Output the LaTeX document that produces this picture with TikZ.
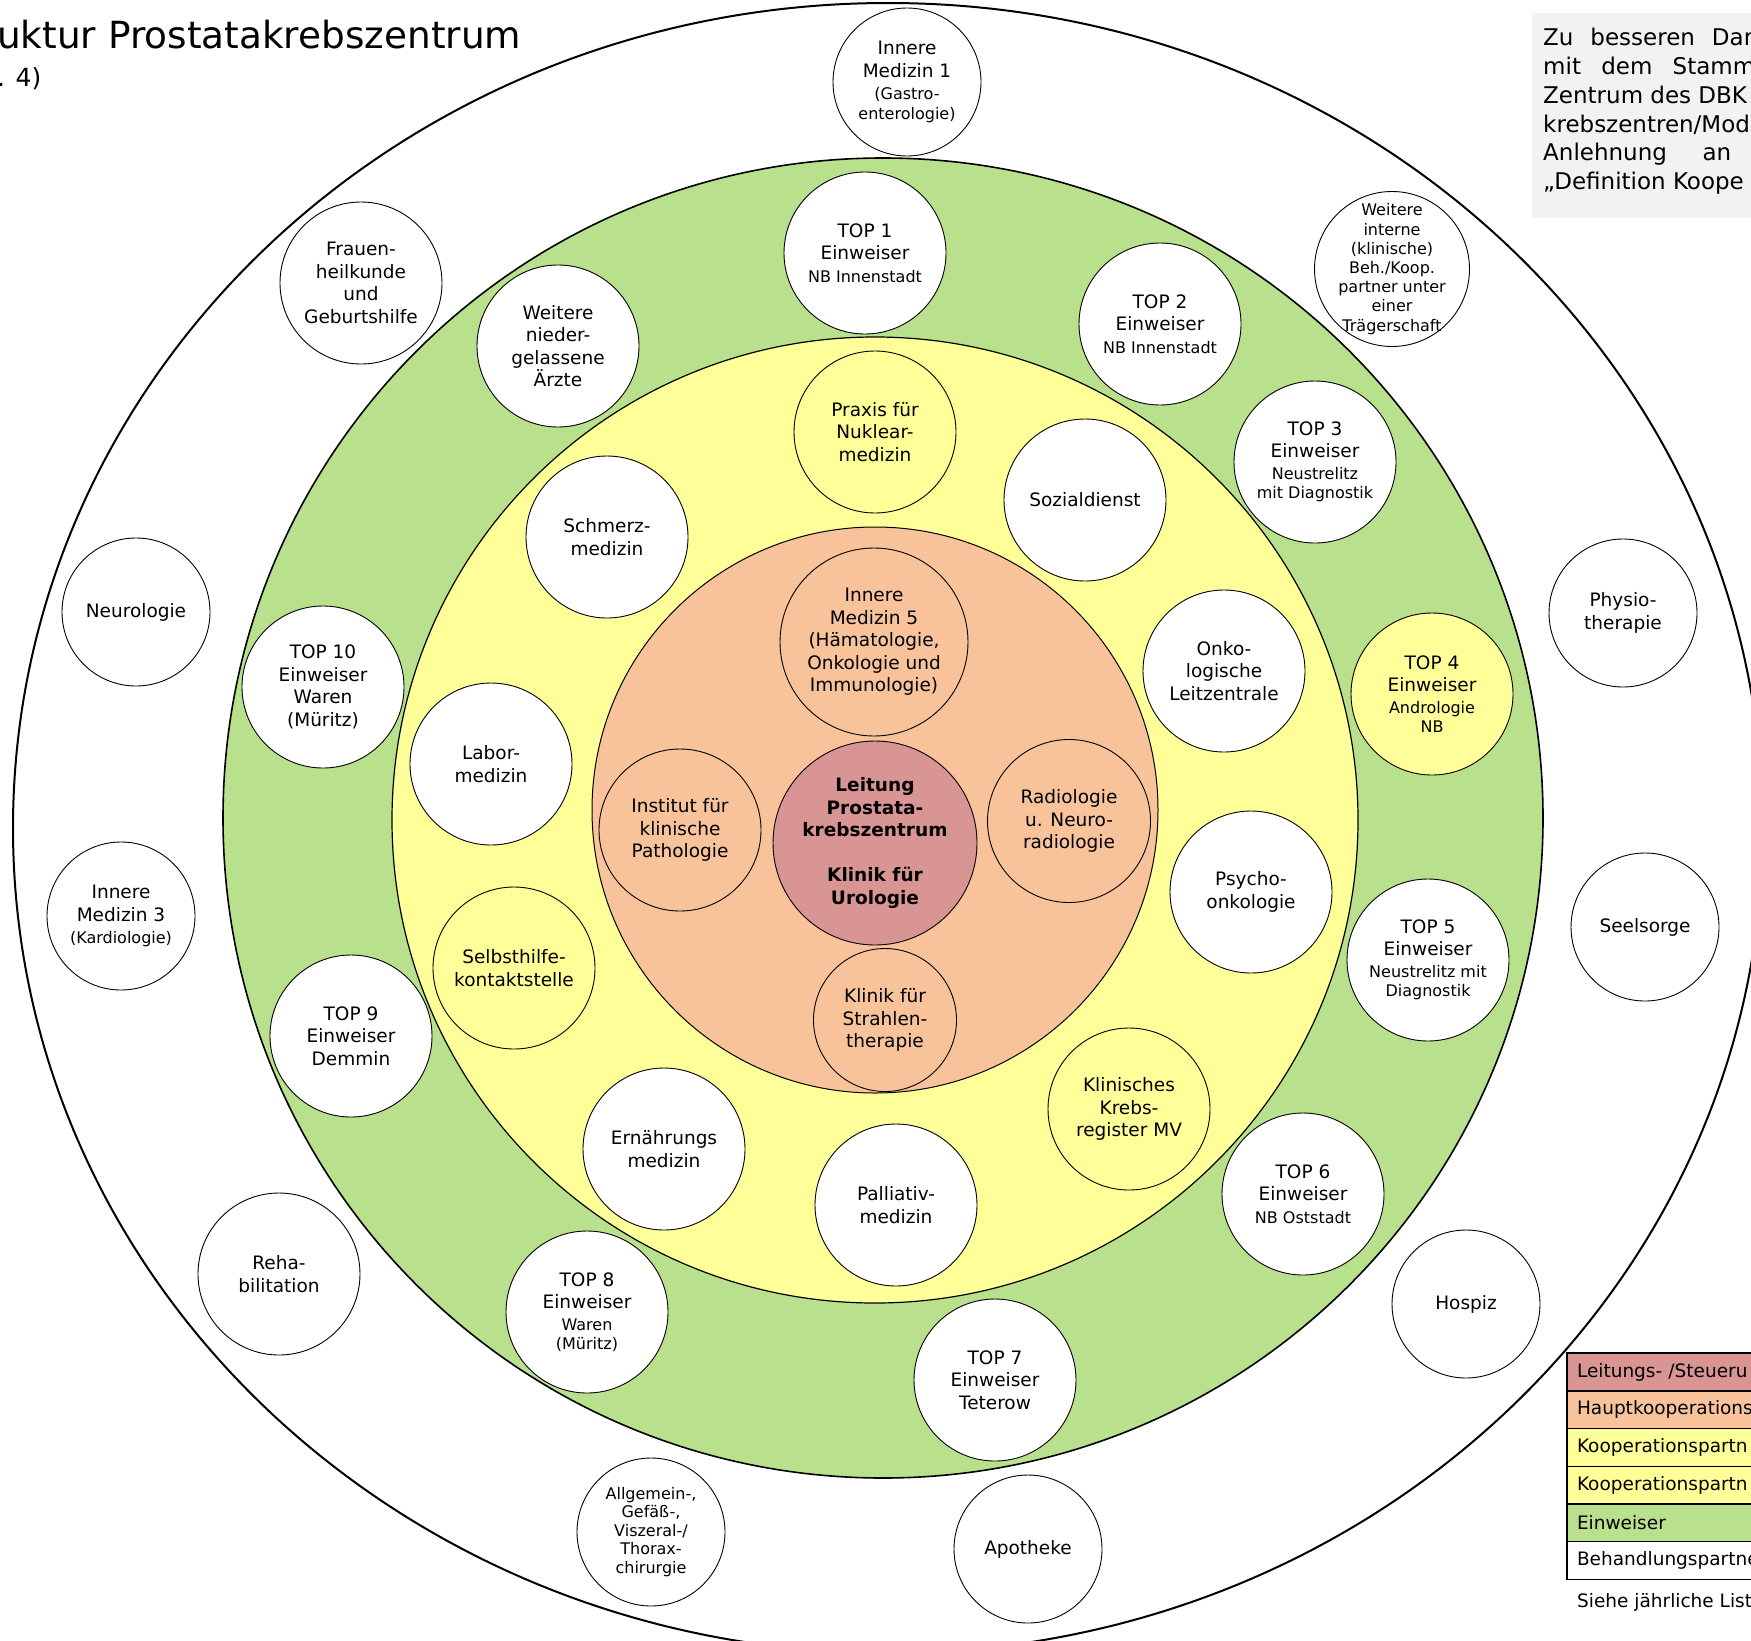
\documentclass[tikz,border=0pt]{standalone}
\usepackage{fontspec}
\setmainfont{DejaVu Sans}
\usetikzlibrary{positioning}
\definecolor{leitrot}{HTML}{D99594}
\definecolor{hauptor}{HTML}{F8C39B}
\definecolor{koopgelb}{HTML}{FFFF99}
\definecolor{einwgruen}{HTML}{B9E08D}
\definecolor{boxgrau}{HTML}{F2F2F2}
\newcommand{\normtxt}{\fontsize{18.5}{22.5}\selectfont}
\newcommand{\smtxt}{\fontsize{16}{19.5}\selectfont}
\newcommand{\tytxt}{\fontsize{16}{18.5}\selectfont}
\tikzset{
  bub/.style={circle, draw, line width=0.9pt, fill=white, inner sep=-6pt,
    align=center, font=\normtxt, minimum size=162pt},
  bubs/.style={bub, minimum size=148pt},
  legrow/.style={draw, line width=1.5pt, anchor=west, text width=230pt,
    align=left, inner xsep=10pt, inner ysep=0pt, outer sep=0pt,
    minimum height=37.7pt, font=\normtxt}
}

\begin{document}
\begin{tikzpicture}[x=1pt, y=-1pt]
\useasboundingbox (0,0) rectangle (1751,1641);
\fill[white] (0,0) rectangle (1751,1641);

% Ringe
\draw[line width=2pt] (888,828) ellipse [x radius=875, y radius=825];
\draw[fill=einwgruen, line width=1.6pt] (883,818) circle [radius=660];
\draw[fill=koopgelb, line width=1.2pt] (875,820) circle [radius=483];
\draw[fill=hauptor, line width=1pt] (875,810) circle [radius=283];

% Titel
\node[anchor=base west, inner sep=0pt, font=\fontsize{37.4}{44}\selectfont] (titel) at (-3,48) {uktur Prostatakrebszentrum};
\node[anchor=base west, inner sep=0pt, font=\fontsize{25}{30}\selectfont] (stand) at (-3,86) {. 4)};

% Hinweis
\fill[boxgrau] (1532,13) rectangle (1760,218);
\node[anchor=north west, inner sep=0pt, align=left, font=\fontsize{23}{28.8}\selectfont] (hinweis) at (1543,28)
  {\makebox[210pt][s]{Zu besseren Dar}\\\makebox[212pt][s]{mit dem Stamm}\\Zentrum des DBK\\krebszentren/Mod\\\makebox[188pt][s]{Anlehnung an}\\„Definition Koope};

% Behandlungspartner
\node[bubs] (im1) at (907,82) {Innere\\Medizin 1\\{\smtxt (Gastro-}\\[-3pt]{\smtxt enterologie)}};
\node[bub] (frauen) at (361,283) {Frauen-\\heilkunde\\und\\Geburtshilfe};
\node[bub, minimum size=155pt, inner sep=-11pt, font=\fontsize{16}{19.2}\selectfont] (intern) at (1392,269) {Weitere\\interne\\(klinische)\\Beh./Koop.\\partner unter\\einer\\Trägerschaft};
\node[bubs] (neuro) at (136,612) {Neurologie};
\node[bubs] (physio) at (1623,613) {Physio-\\therapie};
\node[bubs] (im3) at (121,916) {Innere\\Medizin 3\\{\smtxt (Kardiologie)}};
\node[bubs] (seel) at (1645,927) {Seelsorge};
\node[bub] (reha) at (279,1274) {Reha-\\bilitation};
\node[bubs] (hospiz) at (1466,1304) {Hospiz};
\node[bubs, font=\tytxt] (chir) at (651,1532) {Allgemein-,\\Gefäß-,\\Viszeral-/\\Thorax-\\chirurgie};
\node[bubs] (apo) at (1028,1549) {Apotheke};

% Einweiser
\node[bub] (top1) at (865,253) {TOP 1\\Einweiser\\{\smtxt NB Innenstadt}};
\node[bub] (top2) at (1160,324) {TOP 2\\Einweiser\\{\smtxt NB Innenstadt}};
\node[bub] (top3) at (1315,462) {TOP 3\\Einweiser\\[-1pt]{\smtxt Neustrelitz}\\[-3pt]{\smtxt mit Diagnostik}};
\node[bub, fill=koopgelb] (top4) at (1432,694) {TOP 4\\Einweiser\\[-1pt]{\smtxt Andrologie}\\[-3pt]{\smtxt NB}};
\node[bub] (top5) at (1428,960) {TOP 5\\Einweiser\\[-1pt]{\smtxt Neustrelitz mit}\\[-3pt]{\smtxt Diagnostik}};
\node[bub] (top6) at (1303,1194) {TOP 6\\Einweiser\\{\smtxt NB Oststadt}};
\node[bub] (top7) at (995,1380) {TOP 7\\Einweiser\\Teterow};
\node[bub] (top8) at (587,1312) {TOP 8\\Einweiser\\[-1pt]{\smtxt Waren}\\[-3pt]{\smtxt (Müritz)}};
\node[bub] (top9) at (351,1036) {TOP 9\\Einweiser\\Demmin};
\node[bub] (top10) at (323,687) {TOP 10\\Einweiser\\Waren\\(Müritz)};
\node[bub] (aerzte) at (558,346) {Weitere\\nieder-\\gelassene\\Ärzte};

% Kooperationspartner
\node[bub, fill=koopgelb] (nuk) at (875,432) {Praxis für\\Nuklear-\\medizin};
\node[bub] (sozial) at (1085,500) {Sozialdienst};
\node[bub] (olz) at (1224,671) {Onko-\\logische\\Leitzentrale};
\node[bub] (psycho) at (1251,892) {Psycho-\\onkologie};
\node[bub, fill=koopgelb] (kkr) at (1129,1109) {Klinisches\\Krebs-\\register MV};
\node[bub] (palli) at (896,1205) {Palliativ-\\medizin};
\node[bub] (ernaehr) at (664,1149) {Ernährungs\\medizin};
\node[bub, fill=koopgelb] (shk) at (514,968) {Selbsthilfe-\\kontaktstelle};
\node[bub] (labor) at (491,764) {Labor-\\medizin};
\node[bub] (schmerz) at (607,537) {Schmerz-\\medizin};

% Hauptkooperationspartner
\node[bub, fill=hauptor, minimum size=188pt] (im5) at (874,642) {Innere\\Medizin 5\\(Hämatologie,\\Onkologie und\\Immunologie)};
\node[bub, fill=hauptor] (patho) at (680,830) {Institut für\\klinische\\Pathologie};
\node[bub, fill=hauptor, minimum size=163pt] (radio) at (1069,821) {Radiologie\\u. Neuro-\\radiologie};
\node[bub, fill=hauptor, minimum size=143pt] (strahl) at (885,1020) {Klinik für\\Strahlen-\\therapie};
\node[bub, fill=leitrot, minimum size=204pt, font=\normtxt\bfseries] (leitung) at (875,843) {Leitung\\Prostata-\\krebszentrum\\[22.5pt]Klinik für\\Urologie};

% Legende
\node[legrow, fill=leitrot] (leg1) at (1567,1372) {Leitungs- /Steueru};
\node[legrow, fill=hauptor, below=0pt of leg1] (leg2) {Hauptkooperations};
\node[legrow, fill=koopgelb, below=0pt of leg2] (leg3) {Kooperationspartn};
\node[legrow, fill=koopgelb, below=0pt of leg3] (leg4) {Kooperationspartn};
\node[legrow, fill=einwgruen, below=0pt of leg4] (leg5) {Einweiser};
\node[legrow, fill=white, below=0pt of leg5] (leg6) {Behandlungspartne};
\node[anchor=base west, inner sep=0pt, font=\normtxt] (liste) at (1577,1607) {Siehe jährliche List};
\end{tikzpicture}
\end{document}
